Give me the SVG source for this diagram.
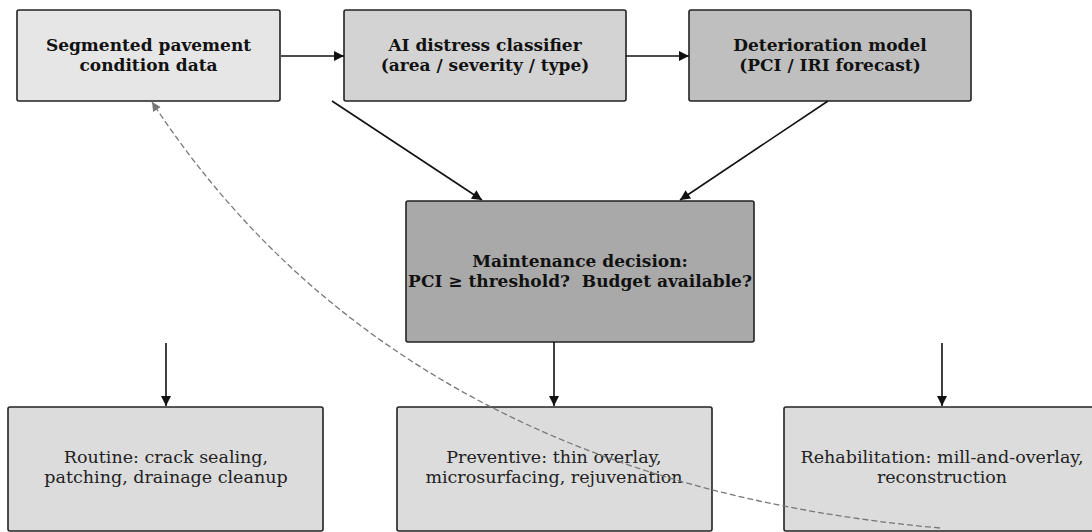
<svg xmlns="http://www.w3.org/2000/svg" width="1092" height="532" viewBox="0 0 1092 532">
<style>
.box{stroke:#222;stroke-width:1.6}
.b{font-family:"DejaVu Serif",serif;font-weight:bold;font-size:17px;fill:#111;text-anchor:middle;white-space:pre}
.r{font-family:"DejaVu Serif",serif;font-size:17.5px;fill:#222;text-anchor:middle}
.edge{stroke:#111;stroke-width:1.6;fill:none}
.fb{stroke:#777;stroke-width:1.3;fill:none;stroke-dasharray:6,3}
</style>
<defs>
<marker id="ah" viewBox="0 0 10 10" refX="10" refY="5" markerWidth="12" markerHeight="10" markerUnits="userSpaceOnUse" orient="auto"><path d="M0,0L10,5L0,10z" fill="#111"/></marker>
<marker id="ahg" viewBox="0 0 10 10" refX="10" refY="5" markerWidth="11" markerHeight="9" markerUnits="userSpaceOnUse" orient="auto"><path d="M0,0L10,5L0,10z" fill="#777"/></marker>
</defs>
<rect width="1092" height="532" fill="#fff"/>
<g id="n1"><rect class="box" x="17" y="10" width="263" height="91" rx="2" fill="#e6e6e6"/><text class="b" x="148.5" y="51">Segmented pavement</text><text class="b" x="148.5" y="71">condition data</text></g>
<g id="n2"><rect class="box" x="344" y="10" width="282" height="91" rx="2" fill="#d3d3d3"/><text class="b" x="485" y="51">AI distress classifier</text><text class="b" x="485" y="71">(area / severity / type)</text></g>
<g id="n3"><rect class="box" x="689" y="10" width="282" height="91" rx="2" fill="#bfbfbf"/><text class="b" x="830" y="51">Deterioration model</text><text class="b" x="830" y="71">(PCI / IRI forecast)</text></g>
<g id="n4"><rect class="box" x="406" y="201" width="348" height="141" rx="2" fill="#a9a9a9"/><text class="b" x="580" y="267">Maintenance decision:</text><text class="b" x="580" y="287" xml:space="preserve">PCI ≥ threshold?  Budget available?</text></g>
<g id="n5"><rect class="box" x="8" y="407" width="315" height="124" rx="2" fill="#dcdcdc"/><text class="r" x="166" y="463">Routine: crack sealing,</text><text class="r" x="166" y="483">patching, drainage cleanup</text></g>
<g id="n6"><rect class="box" x="397" y="407" width="315" height="124" rx="2" fill="#dcdcdc"/><text class="r" x="554" y="463">Preventive: thin overlay,</text><text class="r" x="554" y="483">microsurfacing, rejuvenation</text></g>
<g id="n7"><rect class="box" x="784" y="407" width="316" height="124" rx="2" fill="#dcdcdc"/><text class="r" x="942" y="463">Rehabilitation: mill-and-overlay,</text><text class="r" x="942" y="483">reconstruction</text></g>
<g id="edges">
<line class="edge" x1="281" y1="56" x2="344" y2="56" marker-end="url(#ah)"/>
<line class="edge" x1="626" y1="56" x2="689" y2="56" marker-end="url(#ah)"/>
<line class="edge" x1="332" y1="101" x2="482" y2="200" marker-end="url(#ah)"/>
<line class="edge" x1="828" y1="101" x2="680" y2="200" marker-end="url(#ah)"/>
<line class="edge" x1="166" y1="343" x2="166" y2="406" marker-end="url(#ah)"/>
<line class="edge" x1="554" y1="342" x2="554" y2="406" marker-end="url(#ah)"/>
<line class="edge" x1="942" y1="343" x2="942" y2="406" marker-end="url(#ah)"/>
<path class="fb" d="M940,528Q400,480 152,102" marker-end="url(#ahg)"/>
</g>
</svg>
